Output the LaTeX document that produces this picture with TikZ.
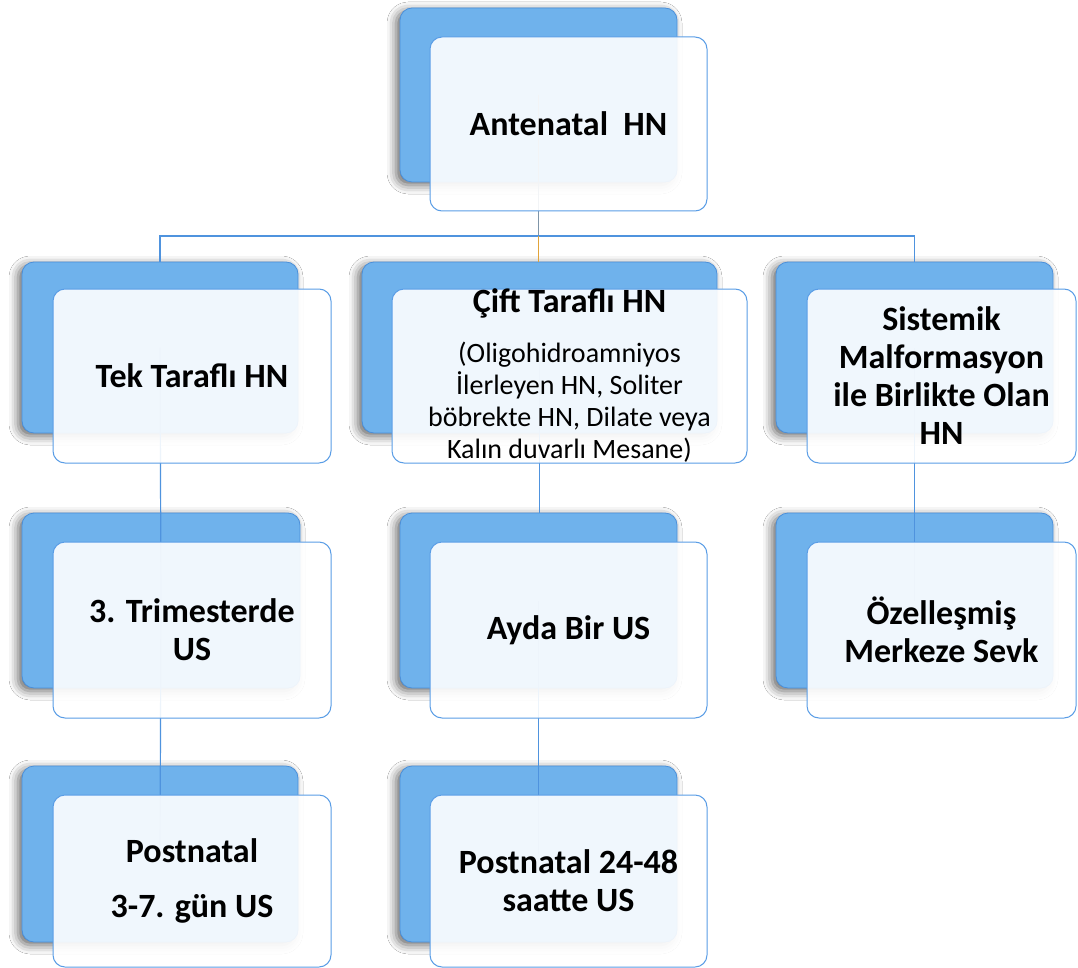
\documentclass[tikz,border=0pt]{standalone}
\usepackage{fontspec}
\setmainfont{Carlito}
\usetikzlibrary{shadows.blur}
\definecolor{backblue}{HTML}{6FB2EC}
\definecolor{backedge}{HTML}{4A8FDA}
\definecolor{frontedge}{HTML}{5A9DE6}
\definecolor{linkblue}{HTML}{4F93DE}
\definecolor{linkorange}{HTML}{E2A43A}
\definecolor{linkgray}{HTML}{7F95A8}
\begin{document}
\begin{tikzpicture}[x=1pt,y=-1pt,
  backbox/.style={draw=backedge, line width=0.8pt, fill=backblue, rounded corners=12pt, inner sep=0pt,
    blur shadow={shadow xshift=-4pt, shadow yshift=-3pt, shadow blur radius=9pt, shadow opacity=60}},
  frontbox/.style={draw=frontedge, line width=1pt, fill=white, fill opacity=0.9, text opacity=1,
    rounded corners=12pt, inner sep=0pt, align=center, font=\bfseries\fontsize{34}{38}\selectfont},
  link/.style={draw=linkblue, line width=1.2pt}]
\useasboundingbox (0,0) rectangle (1078,968);
\fill[white] (0,0) rectangle (1078,968);

% back boxes
\node[backbox, minimum width=277pt, minimum height=174pt] (b0) at (538.5,95) {};
\node[backbox, minimum width=276pt, minimum height=171pt] (b1) at (160,347.5) {};
\node[backbox, minimum width=355pt, minimum height=171pt] (b2) at (539.5,347.5) {};
\node[backbox, minimum width=277pt, minimum height=171pt] (b3) at (914.5,347.5) {};
\node[backbox, minimum width=278pt, minimum height=175pt] (b4) at (161,600.5) {};
\node[backbox, minimum width=277pt, minimum height=175pt] (b5) at (538.5,600.5) {};
\node[backbox, minimum width=277pt, minimum height=175pt] (b6) at (914.5,600.5) {};
\node[backbox, minimum width=276pt, minimum height=176pt] (b7) at (160,854) {};
\node[backbox, minimum width=277pt, minimum height=176pt] (b8) at (538.5,854) {};

% connectors
\coordinate (j) at (538.5,236);
\draw[link, draw=linkgray] (b0.center) -- (j);
\draw[link] (j) -| (b1.north);
\draw[link] (j) -| (b3.north);
\draw[link, draw=linkorange] (j) -- (b0.center |- b2.north);
\draw[link] (b1.center) -- (b4.center);
\draw[link] (b4.center) -- (b7.center);
\draw[link] (b2.center) -- (b2.center |- b5.north);
\draw[link] (b5.center) -- (b8.center);
\draw[link] (b3.center) -- (b6.center);

% front boxes
\node[frontbox, minimum width=277pt, minimum height=174pt] (f0) at (568.5,124) {Antenatal\ \ HN};
\node[frontbox, minimum width=278pt, minimum height=174pt] (f1) at (192,376) {Tek Taraflı HN};
\node[frontbox, minimum width=355pt, minimum height=174pt, font=\fontsize{28}{32}\selectfont] (f2) at (569.5,376)
  {{\bfseries\fontsize{34}{34}\selectfont Çift Taraflı HN}\\[18pt]
   (Oligohidroamniyos\\ İlerleyen HN, Soliter\\ böbrekte HN, Dilate veya\\ Kalın duvarlı Mesane)};
\node[frontbox, minimum width=269pt, minimum height=174pt] (f3) at (941.5,376)
  {Sistemik\\ Malformasyon\\ ile Birlikte Olan\\ HN};
\node[frontbox, minimum width=278pt, minimum height=176pt] (f4) at (192,630) {3. Trimesterde\\ US};
\node[frontbox, minimum width=277pt, minimum height=176pt] (f5) at (568.5,630) {Ayda Bir US};
\node[frontbox, minimum width=269pt, minimum height=176pt] (f6) at (941.5,630) {Özelleşmiş\\ Merkeze Sevk};
\node[frontbox, minimum width=278pt, minimum height=172pt] (f7) at (192,881) {Postnatal\\[17pt] 3-7. gün US};
\node[frontbox, minimum width=277pt, minimum height=172pt] (f8) at (568.5,881) {Postnatal 24-48\\ saatte US};
\end{tikzpicture}
\end{document}
